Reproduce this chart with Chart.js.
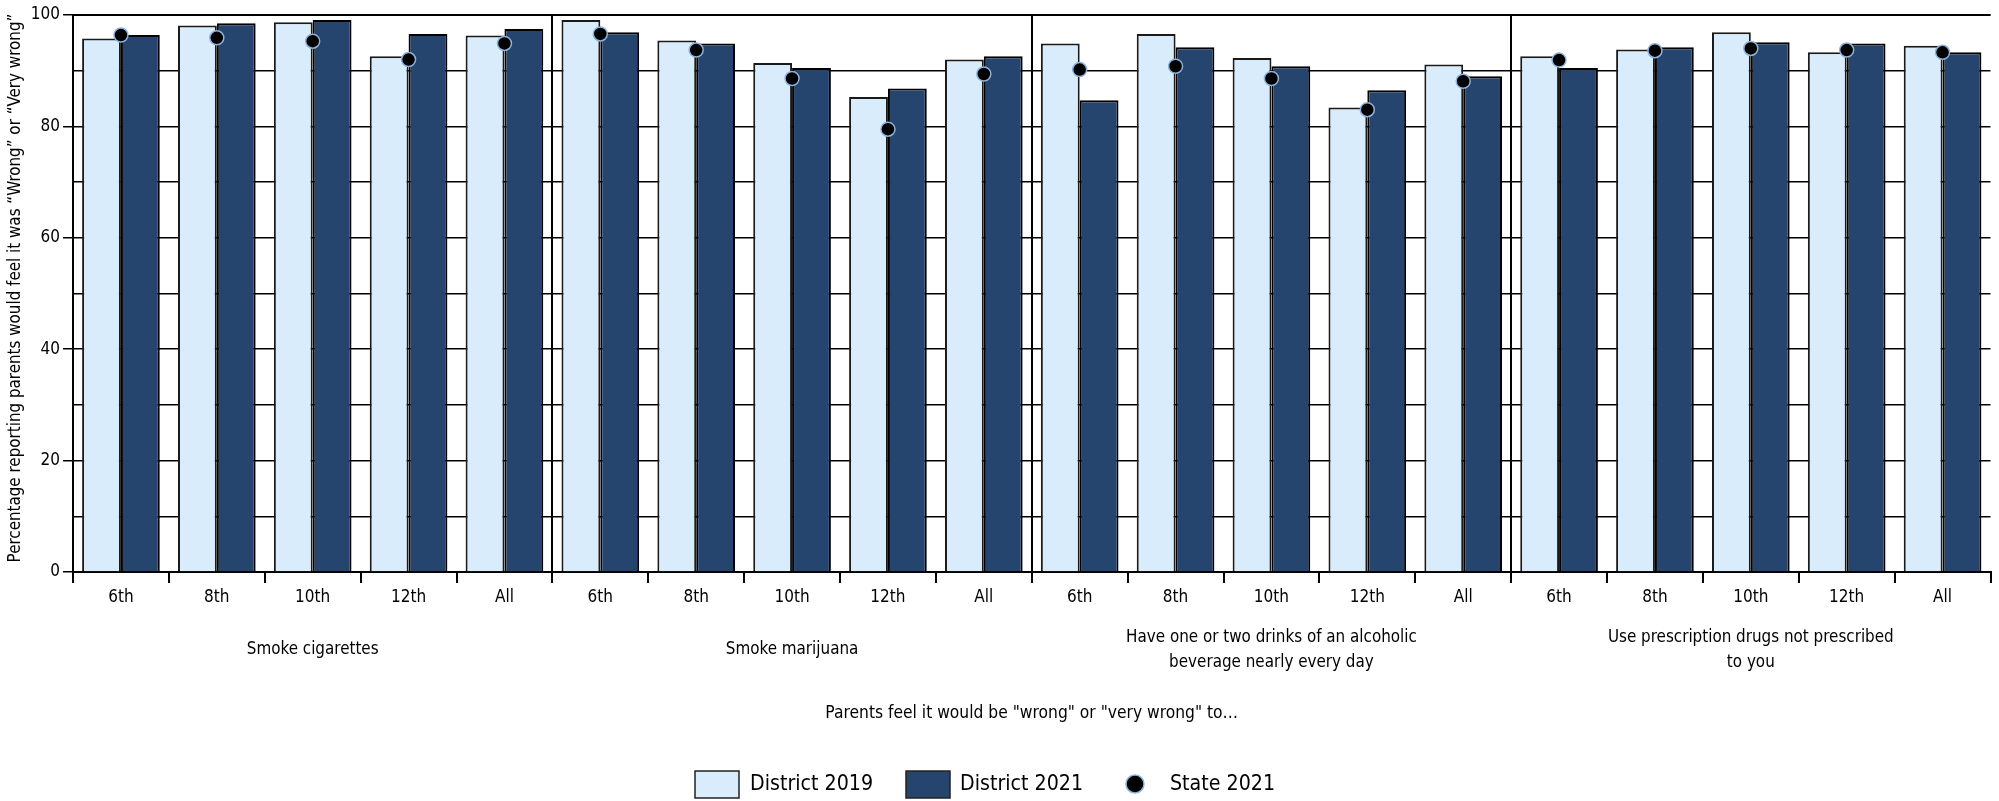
<!DOCTYPE html>
<html>
<head>
<meta charset="utf-8">
<script src="https://cdn.jsdelivr.net/npm/chart.js@4/dist/chart.umd.min.js"></script>
<style>
  body { margin: 0; background: #fff; }
  #wrap { width: 1999px; height: 801px; position: relative; }
</style>
</head>
<body>
<div id="wrap"><canvas id="grafico"></canvas></div>
<script>
// Valores
const graus = ['6th', '8th', '10th', '12th', 'All'];
const grupos = [
  ['Smoke cigarettes'],
  ['Smoke marijuana'],
  ['Have one or two drinks of an alcoholic', 'beverage nearly every day'],
  ['Use prescription drugs not prescribed', 'to you']
];
const distrito2019 = [95.8, 98.1, 98.7, 92.6, 96.3, 99.1, 95.4, 91.4, 85.3, 92.0, 94.9, 96.6, 92.3, 83.4, 91.1, 92.6, 93.8, 96.9, 93.3, 94.5];
const distrito2021 = [96.4, 98.5, 99.1, 96.6, 97.5, 96.9, 94.9, 90.5, 86.8, 92.6, 84.7, 94.2, 90.8, 86.5, 89.0, 90.5, 94.2, 95.1, 94.9, 93.3];
const estado2021 = [96.4, 95.9, 95.3, 92.0, 94.9, 96.6, 93.7, 88.6, 79.5, 89.4, 90.2, 90.8, 88.6, 83.0, 88.1, 91.9, 93.6, 94.0, 93.7, 93.3];
const ticksY = [0, 20, 40, 60, 80, 100];

const tituloY = 'Percentage reporting parents would feel it was \u201CWrong\u201D or \u201CVery wrong\u201D';
const tituloX = 'Parents feel it would be "wrong" or "very wrong" to\u2026';

const FONTE = "'DejaVu Sans Condensed', 'Liberation Sans Narrow', sans-serif";
const CLARO = '#d9ecfc';
const ESCURO = '#26456e';

const rotulos = [];
grupos.forEach(() => graus.forEach(g => rotulos.push(g)));

// ajusta o tamanho da fonte para o texto ocupar a largura desejada
function ajustaFonte(ctx, texto, largura) {
  ctx.font = '20px ' + FONTE;
  const w = ctx.measureText(texto).width;
  const tam = 20 * largura / w;
  ctx.font = tam.toFixed(2) + 'px ' + FONTE;
  return tam;
}

// textos extras: títulos, grupos, legenda e moldura
const extras = {
  id: 'extras',
  afterDraw(chart) {
    const ctx = chart.ctx;
    const area = chart.chartArea;
    const x = chart.scales.x;
    ctx.save();

    // moldura superior
    ctx.strokeStyle = '#000';
    ctx.lineWidth = 2;
    ctx.beginPath();
    ctx.moveTo(area.left, area.top);
    ctx.lineTo(area.right, area.top);
    ctx.stroke();

    ctx.fillStyle = '#000';
    ctx.textAlign = 'center';
    ctx.textBaseline = 'middle';

    // título do eixo Y
    ctx.save();
    ctx.translate(16, 288);
    ctx.rotate(-Math.PI / 2);
    ajustaFonte(ctx, tituloY, 549);
    ctx.fillText(tituloY, 0, 0);
    ctx.restore();

    // rótulos dos grupos
    const tamGrupo = ajustaFonte(ctx, grupos[2][0], 291);
    ctx.font = tamGrupo.toFixed(2) + 'px ' + FONTE;
    grupos.forEach((linhas, g) => {
      const cx = (x.getPixelForTick(g * 5) + x.getPixelForTick(g * 5 + 4)) / 2;
      const y0 = 650 - (linhas.length - 1) * 12.5;
      linhas.forEach((l, i) => ctx.fillText(l, cx, y0 + i * 25));
    });

    // título do eixo X
    ajustaFonte(ctx, tituloX, 413);
    ctx.fillText(tituloX, (area.left + area.right) / 2, 714);

    // legenda
    const ly = 784;
    const tamLeg = ajustaFonte(ctx, 'District 2019', 123);
    ctx.font = tamLeg.toFixed(2) + 'px ' + FONTE;
    ctx.textAlign = 'left';
    ctx.lineWidth = 1.5;
    ctx.strokeStyle = '#222';
    ctx.fillStyle = CLARO;
    ctx.fillRect(695, ly - 13, 44, 27);
    ctx.strokeRect(695, ly - 13, 44, 27);
    ctx.fillStyle = '#000';
    ctx.fillText(chart.data.datasets[1].label, 750, ly);
    ctx.fillStyle = ESCURO;
    ctx.fillRect(906, ly - 13, 44, 27);
    ctx.strokeRect(906, ly - 13, 44, 27);
    ctx.fillStyle = '#000';
    ctx.fillText(chart.data.datasets[2].label, 960, ly);
    ctx.beginPath();
    ctx.arc(1135, ly, 9, 0, Math.PI * 2);
    ctx.fillStyle = '#000';
    ctx.fill();
    ctx.strokeStyle = '#8db3dd';
    ctx.stroke();
    ctx.fillText(chart.data.datasets[0].label, 1170, ly);

    ctx.restore();
  }
};

document.addEventListener('DOMContentLoaded', () => {
  const ctx = document.getElementById('grafico').getContext('2d');
  new Chart(ctx, {
    type: 'bar',
    data: {
      labels: rotulos,
      datasets: [
        {
          type: 'line',
          label: 'State 2021',
          data: estado2021,
          showLine: false,
          pointRadius: 7,
          pointBackgroundColor: '#000',
          pointBorderColor: '#8db3dd',
          pointBorderWidth: 1.5
        },
        {
          label: 'District 2019',
          data: distrito2019,
          backgroundColor: CLARO,
          borderColor: '#1a1a1a',
          borderWidth: 2
        },
        {
          label: 'District 2021',
          data: distrito2021,
          backgroundColor: ESCURO,
          borderColor: '#000',
          borderWidth: 2
        }
      ]
    },
    options: {
      responsive: true,
      maintainAspectRatio: false,
      animation: false,
      layout: { padding: { top: 15, right: 3, left: 0, bottom: 0 } },
      datasets: { bar: { categoryPercentage: 0.81, barPercentage: 1.0 } },
      plugins: {
        legend: { display: false },
        tooltip: { enabled: false }
      },
      scales: {
        x: {
          offset: true,
          afterFit: s => { s.height = 229; },
          grid: {
            offset: true,
            color: c => (c.index % 5 === 0 ? '#000' : 'rgba(0,0,0,0)'),
            tickColor: '#000',
            lineWidth: 2,
            tickLength: 11
          },
          border: { color: '#000', width: 2 },
          ticks: {
            autoSkip: false,
            maxRotation: 0,
            padding: 4,
            color: '#000',
            font: { family: FONTE, size: 17 }
          }
        },
        y: {
          min: 0,
          max: 100,
          afterFit: s => { s.width = 73; },
          grid: {
            color: '#000',
            lineWidth: 1.5,
            tickLength: 10,
            tickColor: c => (ticksY.includes(c.tick && c.tick.value) ? '#000' : 'rgba(0,0,0,0)')
          },
          border: { color: '#000', width: 2 },
          ticks: {
            stepSize: 10,
            padding: 3,
            color: '#000',
            font: { family: FONTE, size: 17 },
            callback: v => (ticksY.includes(v) ? v : '')
          }
        }
      }
    },
    plugins: [extras]
  });
});
</script>
</body>
</html>
